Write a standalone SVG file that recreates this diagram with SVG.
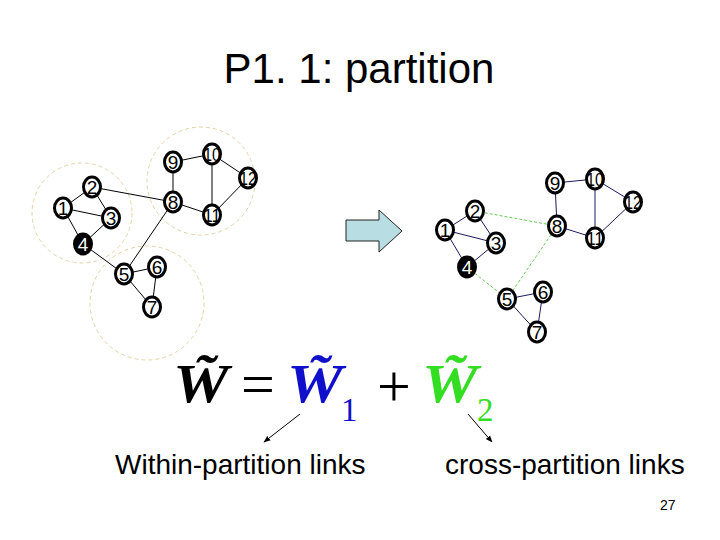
<svg xmlns="http://www.w3.org/2000/svg" width="720" height="540" viewBox="0 0 720 540">
<style>
.title{font-family:"Liberation Sans",Arial,sans-serif;font-size:42px;fill:#000}
.lbl{font-family:"Liberation Sans",Arial,sans-serif;font-size:28px;fill:#000}
.pg{font-family:"Liberation Sans",Arial,sans-serif;font-size:14px;fill:#000}
.nd ellipse{fill:#fff;stroke:#000;stroke-width:3}
.nd text{font-family:"Liberation Sans",Arial,sans-serif;font-size:19px;fill:#000;text-anchor:middle}
.nd.dark ellipse{fill:#000}
.nd.dark text{fill:#fff}
.e{stroke:#000;stroke-width:1;fill:none}
.en{stroke:#1a1a5c;stroke-width:1;fill:none}
.eg{stroke:#66cc55;stroke-width:1;stroke-dasharray:3 2;fill:none}
.part{fill:none;stroke:#e3d3a6;stroke-width:1;stroke-dasharray:4 3}
.math{font-family:"Liberation Serif","Times New Roman",serif;font-style:italic;font-weight:bold;font-size:56px}
.op{font-family:"Liberation Serif","Times New Roman",serif;font-size:60px;fill:#000}
.sub{font-family:"Liberation Serif","Times New Roman",serif;font-size:33px}
</style>
<defs>
<marker id="ah" viewBox="0 0 10 10" refX="9" refY="5" markerWidth="7" markerHeight="7" orient="auto">
<path d="M0,1 L10,5 L0,9 z" fill="#000"/>
</marker>
</defs>
<rect width="720" height="540" fill="#fff"/>
<text class="title" x="359" y="83" text-anchor="middle">P1. 1: partition</text>

<g id="partitions">
<circle class="part" cx="82" cy="213" r="50"/>
<circle class="part" cx="201" cy="181" r="54"/>
<circle class="part" cx="147" cy="303" r="57"/>
</g>

<g id="connectors">
<line class="e" x1="63" y1="208" x2="92" y2="187"/>
<line class="e" x1="63" y1="208" x2="111" y2="218"/>
<line class="e" x1="63" y1="208" x2="83" y2="244"/>
<line class="e" x1="92" y1="187" x2="111" y2="218"/>
<line class="e" x1="92" y1="187" x2="173" y2="202"/>
<line class="e" x1="111" y1="218" x2="83" y2="244"/>
<line class="e" x1="83" y1="244" x2="124" y2="274"/>
<line class="e" x1="124" y1="274" x2="173" y2="202"/>
<line class="e" x1="124" y1="274" x2="157" y2="267"/>
<line class="e" x1="124" y1="274" x2="152" y2="307"/>
<line class="e" x1="157" y1="267" x2="152" y2="307"/>
<line class="e" x1="173" y1="202" x2="173" y2="162"/>
<line class="e" x1="173" y1="202" x2="212" y2="215"/>
<line class="e" x1="173" y1="162" x2="212" y2="154"/>
<line class="e" x1="212" y1="154" x2="212" y2="215"/>
<line class="e" x1="212" y1="154" x2="248" y2="178"/>
<line class="e" x1="212" y1="215" x2="248" y2="178"/>
<line class="en" x1="445" y1="230" x2="475" y2="211"/>
<line class="en" x1="445" y1="230" x2="496" y2="243"/>
<line class="en" x1="445" y1="230" x2="467" y2="267"/>
<line class="en" x1="475" y1="211" x2="496" y2="243"/>
<line class="eg" x1="475" y1="211" x2="557" y2="226"/>
<line class="en" x1="496" y1="243" x2="467" y2="267"/>
<line class="eg" x1="467" y1="267" x2="507" y2="299"/>
<line class="eg" x1="507" y1="299" x2="557" y2="226"/>
<line class="en" x1="507" y1="299" x2="543" y2="292"/>
<line class="en" x1="507" y1="299" x2="537" y2="332"/>
<line class="en" x1="543" y1="292" x2="537" y2="332"/>
<line class="en" x1="557" y1="226" x2="555" y2="183"/>
<line class="en" x1="557" y1="226" x2="595" y2="238"/>
<line class="en" x1="555" y1="183" x2="595" y2="179"/>
<line class="en" x1="595" y1="179" x2="595" y2="238"/>
<line class="en" x1="595" y1="179" x2="633" y2="202"/>
<line class="en" x1="595" y1="238" x2="633" y2="202"/>
<line class="e" x1="300" y1="414" x2="264" y2="442" stroke-width="1.5" marker-end="url(#ah)"/>
<line class="e" x1="468" y1="414" x2="492" y2="442" stroke-width="1.5" marker-end="url(#ah)"/>
</g>

<g id="big-arrow">
<path d="M346,220 L379,220 L379,210 L402,231 L379,252 L379,241 L346,241 z" fill="#b8dde3" stroke="#222" stroke-width="1"/>
</g>

<g id="L1" class="nd"><ellipse cx="63" cy="208" rx="8.5" ry="10"/><text x="63" y="215">1</text></g>
<g id="L2" class="nd"><ellipse cx="92" cy="187" rx="8.5" ry="10"/><text x="92" y="194">2</text></g>
<g id="L3" class="nd"><ellipse cx="111" cy="218" rx="8.5" ry="10"/><text x="111" y="225">3</text></g>
<g id="L4" class="nd dark"><ellipse cx="83" cy="244" rx="8.5" ry="10"/><text x="83" y="251">4</text></g>
<g id="L5" class="nd"><ellipse cx="124" cy="274" rx="8.5" ry="10"/><text x="124" y="281">5</text></g>
<g id="L6" class="nd"><ellipse cx="157" cy="267" rx="8.5" ry="10"/><text x="157" y="274">6</text></g>
<g id="L7" class="nd"><ellipse cx="152" cy="307" rx="8.5" ry="10"/><text x="152" y="314">7</text></g>
<g id="L8" class="nd"><ellipse cx="173" cy="202" rx="8.5" ry="10"/><text x="173" y="209">8</text></g>
<g id="L9" class="nd"><ellipse cx="173" cy="162" rx="8.5" ry="10"/><text x="173" y="169">9</text></g>
<g id="L10" class="nd"><ellipse cx="212" cy="154" rx="8.5" ry="10"/><text x="212" y="161" textLength="17" lengthAdjust="spacingAndGlyphs">10</text></g>
<g id="L11" class="nd"><ellipse cx="212" cy="215" rx="8.5" ry="10"/><text x="212" y="222" textLength="17" lengthAdjust="spacingAndGlyphs">11</text></g>
<g id="L12" class="nd"><ellipse cx="248" cy="178" rx="8.5" ry="10"/><text x="248" y="185" textLength="17" lengthAdjust="spacingAndGlyphs">12</text></g>

<g id="R1" class="nd"><ellipse cx="445" cy="230" rx="8.5" ry="10"/><text x="445" y="237">1</text></g>
<g id="R2" class="nd"><ellipse cx="475" cy="211" rx="8.5" ry="10"/><text x="475" y="218">2</text></g>
<g id="R3" class="nd"><ellipse cx="496" cy="243" rx="8.5" ry="10"/><text x="496" y="250">3</text></g>
<g id="R4" class="nd dark"><ellipse cx="467" cy="267" rx="8.5" ry="10"/><text x="467" y="274">4</text></g>
<g id="R5" class="nd"><ellipse cx="507" cy="299" rx="8.5" ry="10"/><text x="507" y="306">5</text></g>
<g id="R6" class="nd"><ellipse cx="543" cy="292" rx="8.5" ry="10"/><text x="543" y="299">6</text></g>
<g id="R7" class="nd"><ellipse cx="537" cy="332" rx="8.5" ry="10"/><text x="537" y="339">7</text></g>
<g id="R8" class="nd"><ellipse cx="557" cy="226" rx="8.5" ry="10"/><text x="557" y="233">8</text></g>
<g id="R9" class="nd"><ellipse cx="555" cy="183" rx="8.5" ry="10"/><text x="555" y="190">9</text></g>
<g id="R10" class="nd"><ellipse cx="595" cy="179" rx="8.5" ry="10"/><text x="595" y="186" textLength="17" lengthAdjust="spacingAndGlyphs">10</text></g>
<g id="R11" class="nd"><ellipse cx="595" cy="238" rx="8.5" ry="10"/><text x="595" y="245" textLength="17" lengthAdjust="spacingAndGlyphs">11</text></g>
<g id="R12" class="nd"><ellipse cx="633" cy="202" rx="8.5" ry="10"/><text x="633" y="209" textLength="17" lengthAdjust="spacingAndGlyphs">12</text></g>

<g id="formula">
<text class="math" transform="translate(173,402) scale(1.12,1)" fill="#000">W̃</text>
<text class="op" x="241" y="404">=</text>
<text class="math" transform="translate(287,402) scale(1.12,1)" fill="#1010cc">W̃</text>
<text class="sub" x="341" y="421" fill="#1010cc">1</text>
<text class="op" x="377" y="406">+</text>
<text class="math" transform="translate(422,402) scale(1.12,1)" fill="#33dd22">W̃</text>
<text class="sub" x="477" y="421" fill="#33dd22">2</text>
</g>

<text class="lbl" x="115" y="474">Within-partition links</text>
<text class="lbl" x="445" y="474">cross-partition links</text>
<text class="pg" x="660" y="510">27</text>
</svg>
